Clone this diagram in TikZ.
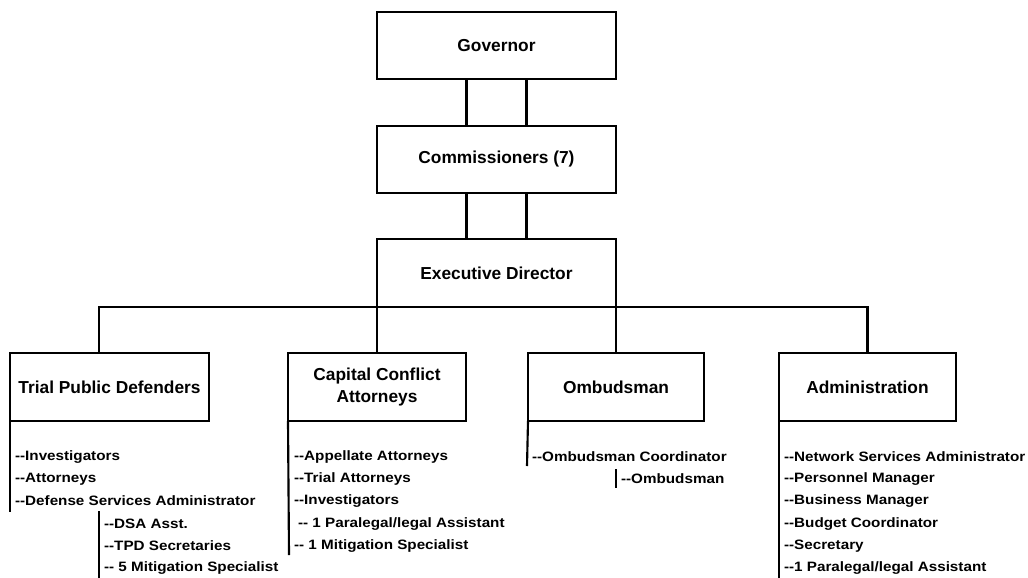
\documentclass[tikz,border=0pt]{standalone}
\usepackage{fontspec}
\setmainfont{Liberation Sans}
\newfontfamily\itemfont{Liberation Sans}[FakeStretch=1.12]
\newcommand\dd{-\kern0pt-}
\begin{document}
\begin{tikzpicture}[x=0.75pt,y=-0.75pt, line width=1.6pt,
  box/.style={draw, rectangle, inner sep=0pt, outer sep=0pt, align=center, font=\fontsize{13}{16.5}\selectfont\bfseries},
  item/.style={anchor=west, inner sep=0pt, font=\itemfont\fontsize{10.2}{12}\selectfont\bfseries}]
\useasboundingbox (0,0) rectangle (1028,578);
% top chain
\node[box, minimum width=179.25pt, minimum height=50.25pt] (gov) at (496.5,45.5) {Governor};
\node[box, minimum width=179.25pt, minimum height=50.25pt] (com) at (496.5,159.5) {Commissioners (7)};
\node[box, minimum width=179.25pt, minimum height=51pt] (exd) at (496.5,273) {Executive Director};
\draw ([xshift=-22.5pt]gov.south) -- ([xshift=-22.5pt]com.north);
\draw ([xshift=22.5pt]gov.south) -- ([xshift=22.5pt]com.north);
\draw ([xshift=-22.5pt]com.south) -- ([xshift=-22.5pt]exd.north);
\draw ([xshift=22.5pt]com.south) -- ([xshift=22.5pt]exd.north);
% divisions
\node[box, minimum width=149.25pt, minimum height=51pt] (tpd) at (109.5,387) {Trial Public Defenders};
\node[box, minimum width=133.5pt, minimum height=51pt] (cca) at (377,387) {Capital Conflict\\Attorneys};
\node[box, minimum width=132pt, minimum height=51pt] (omb) at (616,387) {Ombudsman};
\node[box, minimum width=132.75pt, minimum height=51pt] (adm) at (867.5,387) {Administration};
\coordinate (tpdtop) at (99,353);
\draw (exd.south west) -| (tpdtop);
\draw (exd.south east) -| (adm.north);
\draw (exd.south west) -- (exd.south west |- cca.north);
\draw (exd.south east) -- (exd.south east |- omb.north);
% Trial Public Defenders list
\coordinate (tpdend) at (10,512);
\coordinate (tpdsubtop) at (99,511);
\coordinate (tpdsubend) at (99,578);
\draw (tpd.south west) -- (tpdend);
\draw (tpdsubtop) -- (tpdsubend);
\node[item] (t1) at (14,457) {\dd Investigators};
\node[item] (t2) at (14,479) {\dd Attorneys};
\node[item] (t3) at (14,501) {\dd Defense Services Administrator};
\node[item] (t4) at (103,524) {\dd DSA Asst.};
\node[item] (t5) at (103,546) {\dd TPD Secretaries};
\node[item] (t6) at (103,568) {\dd{} 5 Mitigation Specialist};
% Capital Conflict list
\coordinate (ccaend) at (289,555);
\draw (cca.south west) -- (ccaend);
\node[item] (c1) at (293,457) {\dd Appellate Attorneys};
\node[item] (c2) at (293,479) {\dd Trial Attorneys};
\node[item] (c3) at (293,501) {\dd Investigators};
\node[item] (c4) at (297,524) {\dd{} 1 Paralegal/legal Assistant};
\node[item] (c5) at (293,546) {\dd{} 1 Mitigation Specialist};
% Ombudsman list
\coordinate (ombend) at (527,466);
\coordinate (ombsubtop) at (616,469);
\coordinate (ombsubend) at (616,488);
\draw (omb.south west) -- (ombend);
\draw (ombsubtop) -- (ombsubend);
\node[item] (o1) at (531,457) {\dd Ombudsman Coordinator};
\node[item] (o2) at (620,479) {\dd Ombudsman};
% Administration list
\coordinate (admend) at (779,578);
\draw (adm.south west) -- (admend);
\node[item] (a1) at (783,457) {\dd Network Services Administrator};
\node[item] (a2) at (783,479) {\dd Personnel Manager};
\node[item] (a3) at (783,501) {\dd Business Manager};
\node[item] (a4) at (783,524) {\dd Budget Coordinator};
\node[item] (a5) at (783,546) {\dd Secretary};
\node[item] (a6) at (783,568) {\dd 1 Paralegal/legal Assistant};
\end{tikzpicture}
\end{document}
